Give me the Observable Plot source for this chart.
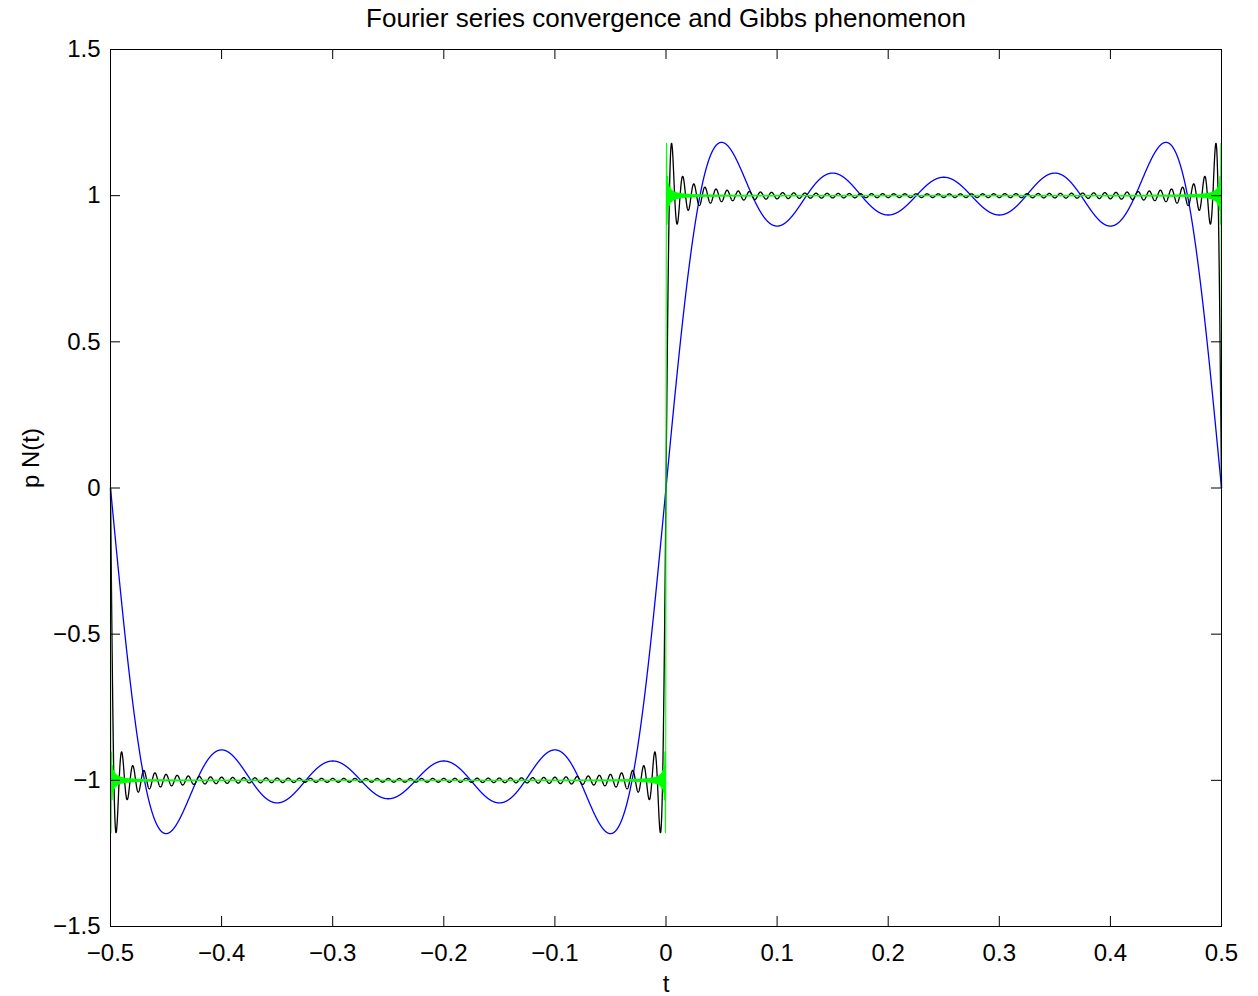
<!DOCTYPE html>
<html>
<head>
<meta charset="utf-8">
<script src="https://cdn.jsdelivr.net/npm/d3@7"></script>
<script src="https://cdn.jsdelivr.net/npm/@observablehq/plot@0.6"></script>
<style>
  html, body { margin: 0; padding: 0; background: white; }
</style>
</head>
<body>
<div id="chart"></div>
<script>
const termCounts = [5, 50, 500];
const seriesColors = ["#0000ff", "#000000", "#00ff00"];
const tDomain = [-0.5, 0.5];
const pDomain = [-1.5, 1.5];
const sampleCount = 10001;
const xTicks = [-0.5, -0.4, -0.3, -0.2, -0.1, 0, 0.1, 0.2, 0.3, 0.4, 0.5];
const yTicks = [-1.5, -1, -0.5, 0, 0.5, 1, 1.5];
const titleText = "Fourier series convergence and Gibbs phenomenon";
const xLabel = "t";
const yLabel = "p N(t)";

// Square-wave Fourier partial sums p_N(t) = (4/π) Σ_{k=1..N} sin(2π(2k−1)t)/(2k−1)
function partialSum(N) {
  const out = [];
  for (let i = 0; i < sampleCount; i++) {
    const t = tDomain[0] + (tDomain[1] - tDomain[0]) * i / (sampleCount - 1);
    let s = 0;
    for (let k = 1; k <= N; k++) {
      const m = 2 * k - 1;
      s += Math.sin(2 * Math.PI * m * t) / m;
    }
    out.push({t, p: 4 / Math.PI * s, N});
  }
  return out;
}
const series = termCounts.map(partialSum);

const fmt = d => String(d).replace("-", "\u2212");

const W = 1258, H = 996, mt = 49, mb = 70, ml = 110, mr = 37;
const fw = W - ml - mr, fh = H - mt - mb, tick = 10;

const chart = Plot.plot({
  width: W, height: H,
  marginTop: mt, marginBottom: mb, marginLeft: ml, marginRight: mr,
  style: {fontFamily: "'Liberation Sans', Arial, sans-serif", fontSize: "24px", background: "white", color: "black"},
  x: {domain: tDomain},
  y: {domain: pDomain},
  marks: [
    ...series.map((d, i) => Plot.line(d, {x: "t", y: "p", stroke: seriesColors[i], strokeWidth: i === 2 ? 1.1 : 1.3})),
    Plot.frame({stroke: "black", strokeWidth: 1}),
    Plot.ruleX(xTicks, {x: d => d, insetTop: fh - tick, stroke: "black"}),
    Plot.ruleX(xTicks, {x: d => d, insetBottom: fh - tick, stroke: "black"}),
    Plot.ruleY(yTicks, {y: d => d, insetRight: fw - tick, stroke: "black"}),
    Plot.ruleY(yTicks, {y: d => d, insetLeft: fw - tick, stroke: "black"}),
    Plot.axisX({ticks: xTicks, tickSize: 0, tickPadding: 17, label: null, fontSize: 24, tickFormat: fmt}),
    Plot.axisY({ticks: yTicks, tickSize: 0, tickPadding: 10, label: null, fontSize: 24, tickFormat: fmt}),
    Plot.text([titleText], {frameAnchor: "top", dy: -41, fontSize: 26}),
    Plot.text([xLabel], {frameAnchor: "bottom", dy: 65, fontSize: 24}),
    Plot.text([yLabel], {frameAnchor: "left", dx: -79, rotate: -90, fontSize: 24})
  ]
});
document.getElementById("chart").appendChild(chart);
</script>
</body>
</html>
